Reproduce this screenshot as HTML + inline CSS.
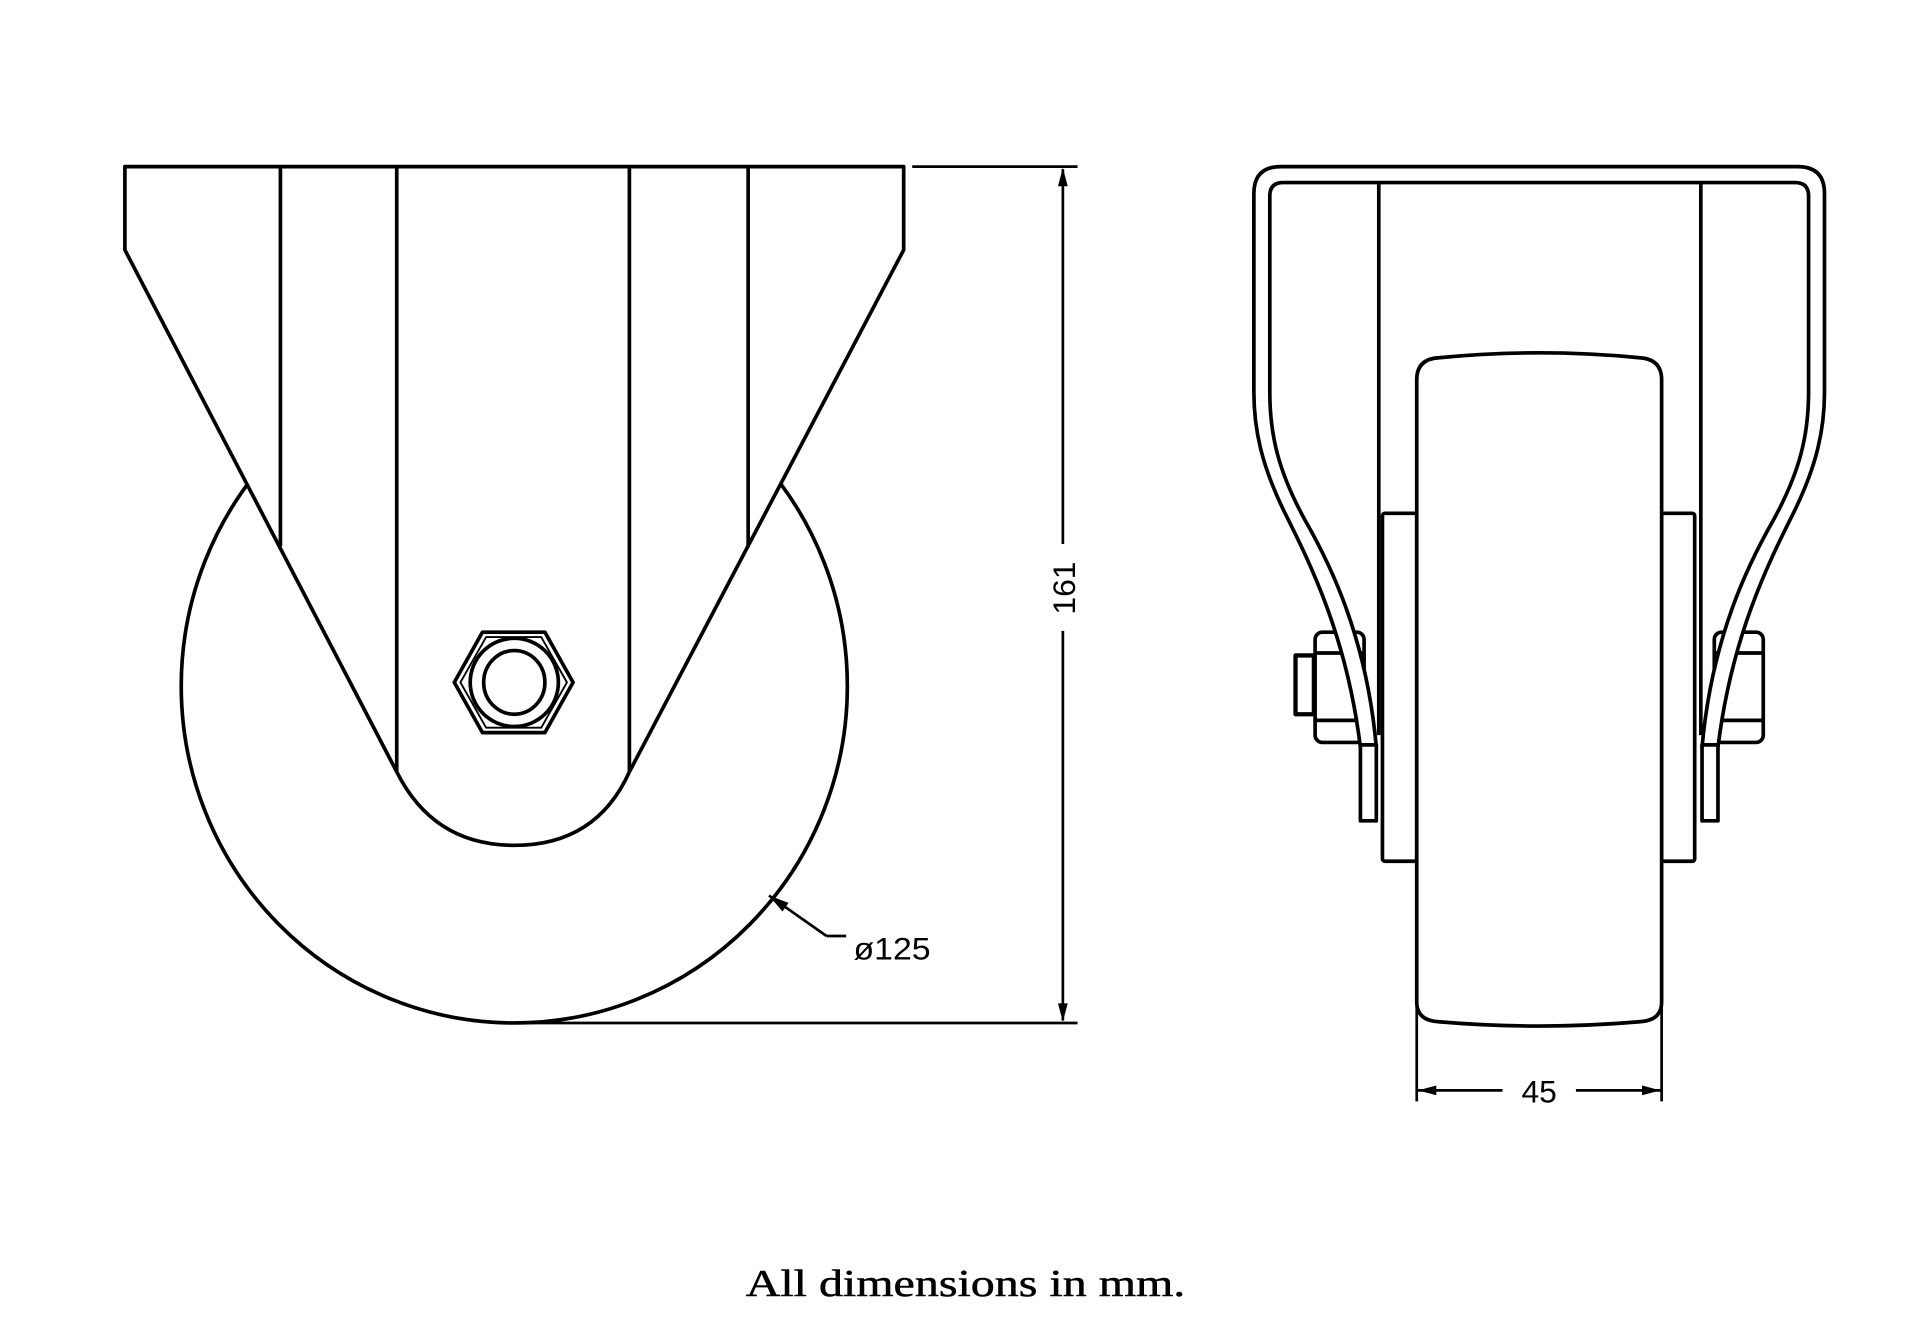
<!DOCTYPE html>
<html><head><meta charset="utf-8"><style>html,body{margin:0;padding:0;background:#fff}svg{display:block}</style></head>
<body>
<svg width="1920" height="1317" viewBox="0 0 1568 1075" preserveAspectRatio="none" xmlns="http://www.w3.org/2000/svg">
<g fill="none" stroke="#000" stroke-width="3" stroke-linejoin="round">
<ellipse cx="420" cy="560" rx="272" ry="275" fill="#fff"/>
<path d="M102,136 L738,136 L738,204 L514,630 C495,672 462,690 420,690 C378,690 345,672 324,630 L102,204 Z" fill="#fff"/>
<line x1="229" y1="136" x2="229" y2="446"/>
<line x1="611" y1="136" x2="611" y2="446"/>
<line x1="324" y1="136" x2="324" y2="630"/>
<line x1="514" y1="136" x2="514" y2="630"/>
<polygon points="371,557 394,516 445,516 468,557 445,598 394,598" fill="#fff"/>
<polygon points="376,557 397,520 442,520 463,557 442,594 397,594" stroke-width="1.5"/>
<ellipse cx="420" cy="557" rx="36" ry="36"/>
<ellipse cx="420" cy="557" rx="25" ry="26"/>
<g stroke-width="2.2">
<line x1="745" y1="136" x2="880" y2="136"/>
<line x1="420" y1="835" x2="880" y2="835"/>
<line x1="868" y1="138" x2="868" y2="444"/>
<line x1="868" y1="515" x2="868" y2="833"/>
<line x1="628" y1="731" x2="675" y2="764"/>
<line x1="675" y1="764" x2="691" y2="764"/>
<line x1="1157" y1="890" x2="1227" y2="890"/>
<line x1="1287" y1="890" x2="1357" y2="890"/>
<line x1="1157" y1="818" x2="1157" y2="899"/>
<line x1="1357" y1="818" x2="1357" y2="899"/>
</g>
</g>
<g fill="#000" stroke="none">
<polygon points="868,137 864,152 872,152"/>
<polygon points="868,834 864,819 872,819"/>
<polygon points="628,731 644,737 639,744"/>
<polygon points="1158,890 1173,886 1173,894"/>
<polygon points="1356,890 1341,886 1341,894"/>
</g>
<g fill="none" stroke="#000" stroke-width="3" stroke-linejoin="round">
<rect x="1074" y="516" width="40" height="90" rx="6" fill="#fff"/>
<line x1="1074" y1="533" x2="1114" y2="533"/>
<line x1="1074" y1="588" x2="1114" y2="588"/>
<rect x="1058" y="535" width="15" height="48" stroke-width="3.5"/>
<rect x="1400" y="516" width="40" height="90" rx="6" fill="#fff"/>
<line x1="1400" y1="533" x2="1440" y2="533"/>
<line x1="1400" y1="588" x2="1440" y2="588"/>
<path d="M1111,610 C1100,520 1070,460 1050,420 C1030,380 1024,350 1024,320 L1024,158 Q1024,136 1046,136 L1468,136 Q1490,136 1490,158 L1490,320 C1490,350 1484,380 1464,420 C1444,460 1414,520 1403,610 L1390,610 C1398,520 1428,460 1448,425 C1470,385 1477,355 1477,320 L1477,160 Q1477,149 1466,149 L1048,149 Q1037,149 1037,160 L1037,320 C1037,355 1044,385 1066,425 C1086,460 1116,520 1124,610 Z" fill="#fff"/>
<rect x="1111" y="608" width="13" height="62" fill="#fff"/>
<rect x="1390" y="608" width="13" height="62" fill="#fff"/>
<line x1="1126" y1="149" x2="1126" y2="600"/>
<line x1="1389" y1="149" x2="1389" y2="600"/>
<rect x="1129" y="419" width="28" height="284" rx="2" fill="#fff"/>
<rect x="1357" y="419" width="27" height="284" rx="2" fill="#fff"/>
<path d="M1157,310 Q1157,293 1175,292 Q1257,284 1339,292 Q1357,293 1357,310 L1357,818 Q1357,833 1339,834 Q1257,841 1175,834 Q1157,833 1157,818 Z" fill="#fff"/>
</g>
<g font-family="Liberation Sans, DejaVu Sans, sans-serif" font-size="26" fill="#000">
<text x="1257" y="900" text-anchor="middle">45</text>
<text x="697" y="783" textLength="63" lengthAdjust="spacingAndGlyphs">ø125</text>
<text transform="translate(878,480) rotate(-90)" text-anchor="middle">161</text>
</g>
<text x="609" y="1058" font-family="Liberation Serif, serif" font-size="31" textLength="359" lengthAdjust="spacingAndGlyphs" fill="#000" stroke="#000" stroke-width="0.4">All dimensions in mm.</text>
</svg>
</body></html>
